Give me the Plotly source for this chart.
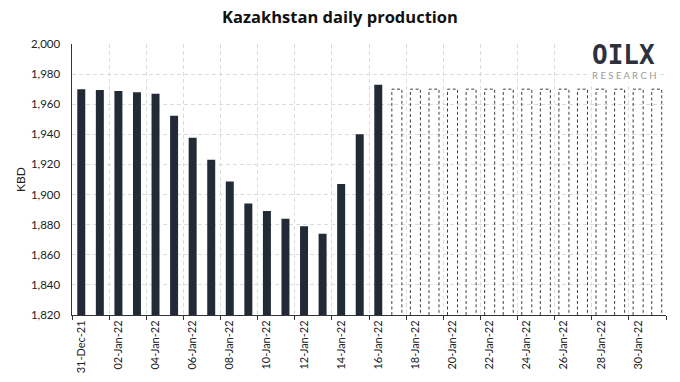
import plotly.graph_objects as go
import pandas as pd

# Data
dates = pd.date_range("2021-12-31", "2022-01-31", freq="D")
labels = [d.strftime("%d-%b-%y") for d in dates]
actual_values = [1970, 1969.5, 1968.8, 1968, 1967, 1952.4, 1937.8, 1923.2, 1908.6,
                 1894, 1889, 1884, 1879, 1874, 1907, 1940, 1973]
forecast_values = [1970] * 15
y_min, y_max = 1820, 2000

n_act = len(actual_values)
x_all = list(range(len(labels)))
x_act = x_all[:n_act]
x_fc = x_all[n_act:]

fig = go.Figure()
fig.add_trace(go.Bar(x=x_act, y=actual_values, width=0.43,
                     marker=dict(color="#222a35", line=dict(width=0)),
                     showlegend=False, hoverinfo="skip"))

# dashed outline bars for forecast, derived from data
hw = 0.27
px, py = [], []
for xi, v in zip(x_fc, forecast_values):
    px += [xi - hw, xi - hw, xi + hw, xi + hw, None]
    py += [y_min, v, v, y_min, None]
fig.add_trace(go.Scatter(x=px, y=py, mode="lines",
                         line=dict(color="#3a3f47", width=1, dash="3px,2.5px"),
                         showlegend=False, hoverinfo="skip"))

font_family = "Lato, 'Open Sans', sans-serif"
grid_dash = "4px,3px"
tick_idx = x_all[::2][:16]
fig.update_layout(
    width=680, height=382,
    margin=dict(l=72, r=14, t=44, b=67, autoexpand=False),
    paper_bgcolor="white", plot_bgcolor="white",
    font=dict(family=font_family, color="#222222", size=11),
    title=dict(text="<b>Kazakhstan daily production</b>", x=0.5, xanchor="center",
               y=0.955, yanchor="middle",
               font=dict(size=16.5, color="#111111", family="'Open Sans', sans-serif")),
    bargap=0.5,
    xaxis=dict(range=[-0.5, len(labels) - 0.5], tickmode="array", automargin=False,
               tickvals=tick_idx, ticktext=[labels[i] for i in tick_idx],
               tickangle=-90, ticks="", showgrid=False,
               showline=True, linecolor="#333333", linewidth=1,
               tickfont=dict(size=11, color="#222222"),
               minor=dict(tickmode="array",
                          tickvals=[i + 1.5 for i in range(-2, len(labels), 2)],
                          ticks="outside", ticklen=4, tickcolor="#333333",
                          showgrid=True, gridcolor="#dcdcdc", griddash=grid_dash, gridwidth=1),
               zeroline=False),
    yaxis=dict(range=[y_min, y_max], dtick=20, tickformat=",", automargin=False,
               showgrid=True, gridcolor="#dcdcdc", griddash=grid_dash, gridwidth=1,
               showline=True, linecolor="#333333", linewidth=1.5,
               ticks="", ticklabelstandoff=8,
               tickfont=dict(size=11.5, color="#222222"),
               title=dict(text="KBD", standoff=2, font=dict(size=12, color="#222222")),
               zeroline=False),
)

# Logo
fig.add_annotation(text="<b>OILX</b>", xref="paper", yref="paper", x=0.985, y=1.022,
                   xanchor="right", yanchor="top", showarrow=False, bgcolor="white",
                   font=dict(size=26, color="#2b323b", family="'DejaVu Sans Mono', monospace"))
fig.add_annotation(text="R E S E A R C H", xref="paper", yref="paper", x=0.987, y=0.913,
                   xanchor="right", yanchor="top", showarrow=False, bgcolor="white",
                   font=dict(size=9.5, color="#9a9a9a", family=font_family))

fig.write_html("out.html", config={"displayModeBar": False, "staticPlot": True},
               post_script="document.body.style.margin='0';")
